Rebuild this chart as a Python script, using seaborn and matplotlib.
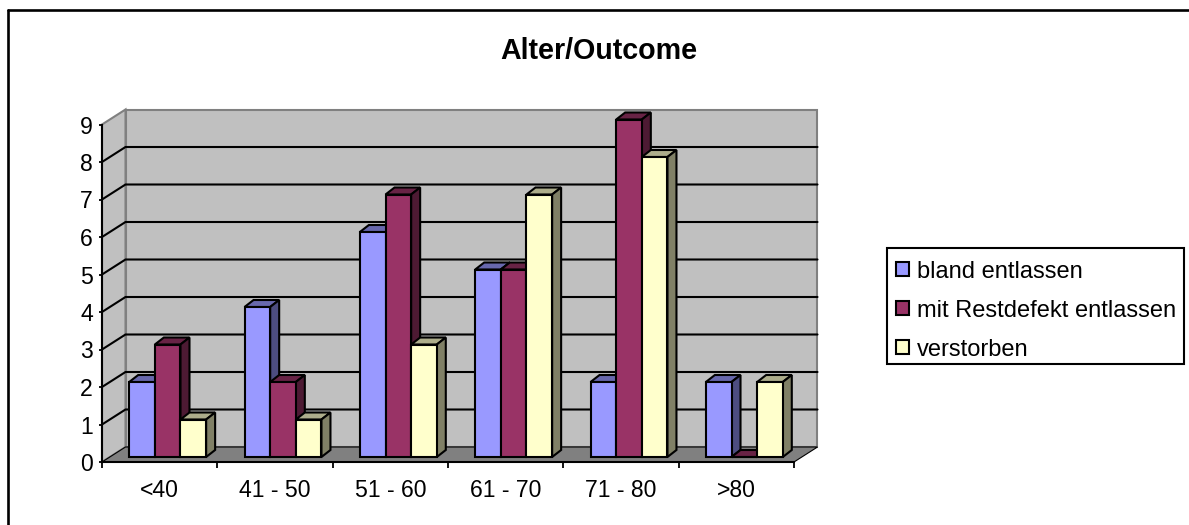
import numpy as np
import pandas as pd
import matplotlib
matplotlib.use("Agg")
import matplotlib.pyplot as plt
from matplotlib.lines import Line2D
from matplotlib.patches import Patch, Polygon, Rectangle
import seaborn as sns

# values
age_groups = ["<40", "41 - 50", "51 - 60", "61 - 70", "71 - 80", ">80"]
bland = [2, 4, 6, 5, 2, 2]
restdefekt = [3, 2, 7, 5, 9, 0]
verstorben = [1, 1, 3, 7, 8, 2]
series_names = ["bland entlassen", "mit Restdefekt entlassen", "verstorben"]
colors = ["#9999FF", "#993366", "#FFFFCC"]
y_ticks = list(range(10))

df = pd.DataFrame({"Alter": age_groups, series_names[0]: bland,
                   series_names[1]: restdefekt, series_names[2]: verstorben})
df = df.melt(id_vars="Alter", var_name="Outcome", value_name="Anzahl")

sns.set_style("white")
plt.rcParams["font.family"] = ["Liberation Sans", "DejaVu Sans"]
plt.rcParams["text.color"] = "black"

W, H = 1189, 525
fig = plt.figure(figsize=(W / 100, H / 100), dpi=100)

# axes = front plane of the 3d box, in pixels
left, right, top, bottom = 102, 794, 124.5, 462
ax = fig.add_axes([left / W, 1 - bottom / H, (right - left) / W, (bottom - top) / H])
ax.patch.set_visible(False)

sns.barplot(data=df, x="Alter", y="Anzahl", hue="Outcome", order=age_groups,
            hue_order=series_names, palette=colors, saturation=1, width=0.667,
            gap=0, errorbar=None, legend=False, ax=ax, edgecolor="black", linewidth=1.5)
ax.set_xlim(-0.5, 5.5)
ax.set_ylim(0, 9)

px_x = (right - left) / 6  # pixels per category
px_y = (bottom - top) / 9  # pixels per value

# wall depth
wall_dx = 23.5 / px_x
wall_dy = 15 / px_y
x0, x1 = -0.5, 5.5
wall_grey = "#808080"

ax.add_patch(Polygon([(x0 + wall_dx, wall_dy), (x1 + wall_dx, wall_dy), (x1 + wall_dx, 9 + wall_dy), (x0 + wall_dx, 9 + wall_dy)],
                     fc="#C0C0C0", ec=wall_grey, lw=1.5, clip_on=False, zorder=0.5))
ax.add_patch(Polygon([(x0, 0), (x0 + wall_dx, wall_dy), (x0 + wall_dx, 9 + wall_dy), (x0, 9)],
                     fc="#C0C0C0", ec=wall_grey, lw=1.5, clip_on=False, zorder=0.5))
ax.add_patch(Polygon([(x0, 0), (x1, 0), (x1 + wall_dx, wall_dy), (x0 + wall_dx, wall_dy)],
                     fc=wall_grey, ec="black", lw=0.8, clip_on=False, zorder=0.6))
for v in y_ticks[1:-1]:
    ax.plot([x0, x0 + wall_dx, x1 + wall_dx], [v, v + wall_dy, v + wall_dy], color="black", lw=1.5,
            clip_on=False, zorder=1, solid_joinstyle="miter")

# bars stand a bit behind the front plane and have their own depth
inset_x = 8 / px_x
inset_y = 5 / px_y
bar_dx = 9 / px_x
bar_dy = 7 / px_y


def shade(color, f):
    rgb = np.array(matplotlib.colors.to_rgb(color))
    return tuple(rgb * f)


for j, container in enumerate(ax.containers):
    for bar in container:
        bar.set_x(bar.get_x() + inset_x)
        bar.set_y(bar.get_y() + inset_y)
        bar.set_zorder(3.5 + j)
        bar.set_clip_on(False)
        xa = bar.get_x()
        xb = xa + bar.get_width()
        ya = bar.get_y()
        yb = ya + bar.get_height()
        ax.add_patch(Polygon([(xa, yb), (xb, yb), (xb + bar_dx, yb + bar_dy), (xa + bar_dx, yb + bar_dy)],
                             fc=shade(colors[j], 0.68), ec="black", lw=1.5, clip_on=False, zorder=3 + j))
        ax.add_patch(Polygon([(xb, ya), (xb + bar_dx, ya + bar_dy), (xb + bar_dx, yb + bar_dy), (xb, yb)],
                             fc=shade(colors[j], 0.5), ec="black", lw=1.5, clip_on=False, zorder=3 + j))

# axes lines and labels
for s in ["top", "right"]:
    ax.spines[s].set_visible(False)
for s in ["left", "bottom"]:
    ax.spines[s].set_color("black")
    ax.spines[s].set_linewidth(1.5)
    ax.spines[s].set_zorder(10)
ax.set_xlabel("")
ax.set_ylabel("")
ax.set_yticks(y_ticks)
ax.set_xticks(np.arange(-0.5, 6, 1))
ax.set_xticklabels([])
ax.set_xticks(range(6), age_groups, minor=True)
ax.tick_params(axis="x", which="major", bottom=True, length=4, width=1.3, color="black")
ax.tick_params(axis="x", which="minor", bottom=False, labelsize=16.6, pad=10, labelcolor="black")
ax.tick_params(axis="y", left=True, length=2.5, width=1.3, color="black", labelsize=16.6, pad=4, labelcolor="black")

fig.text(599 / W, 1 - 51 / H, "Alter/Outcome", fontsize=20.6, fontweight="bold", ha="center", va="center", color="black")

# chart frame, only top and left are inside the picture
fig.add_artist(Line2D([8 / W, 8 / W], [0, 1 - 10 / H], color="black", lw=1.9))
fig.add_artist(Line2D([8 / W, 1], [1 - 10 / H, 1 - 10 / H], color="black", lw=1.9))

# legend box drawn apart so the rows can sit where they sit in the original
fig.add_artist(Rectangle((887 / W, 1 - 364 / H), 297 / W, 116 / H, transform=fig.transFigure,
                         fc="white", ec="black", lw=1.5))
handles = [Patch(fc=c, ec="black", lw=1.5) for c in colors]
leg = fig.legend(handles, series_names, loc="upper left", bbox_to_anchor=(887 / W, 1 - 252 / H), borderaxespad=0,
                 fontsize=17, frameon=False, labelcolor="black",
                 handlelength=0.55, handleheight=0.55, handletextpad=0.34, labelspacing=0.72, borderpad=0.37)
leg.set_zorder(5)

fig.savefig("out.png", dpi=100, facecolor="white")
